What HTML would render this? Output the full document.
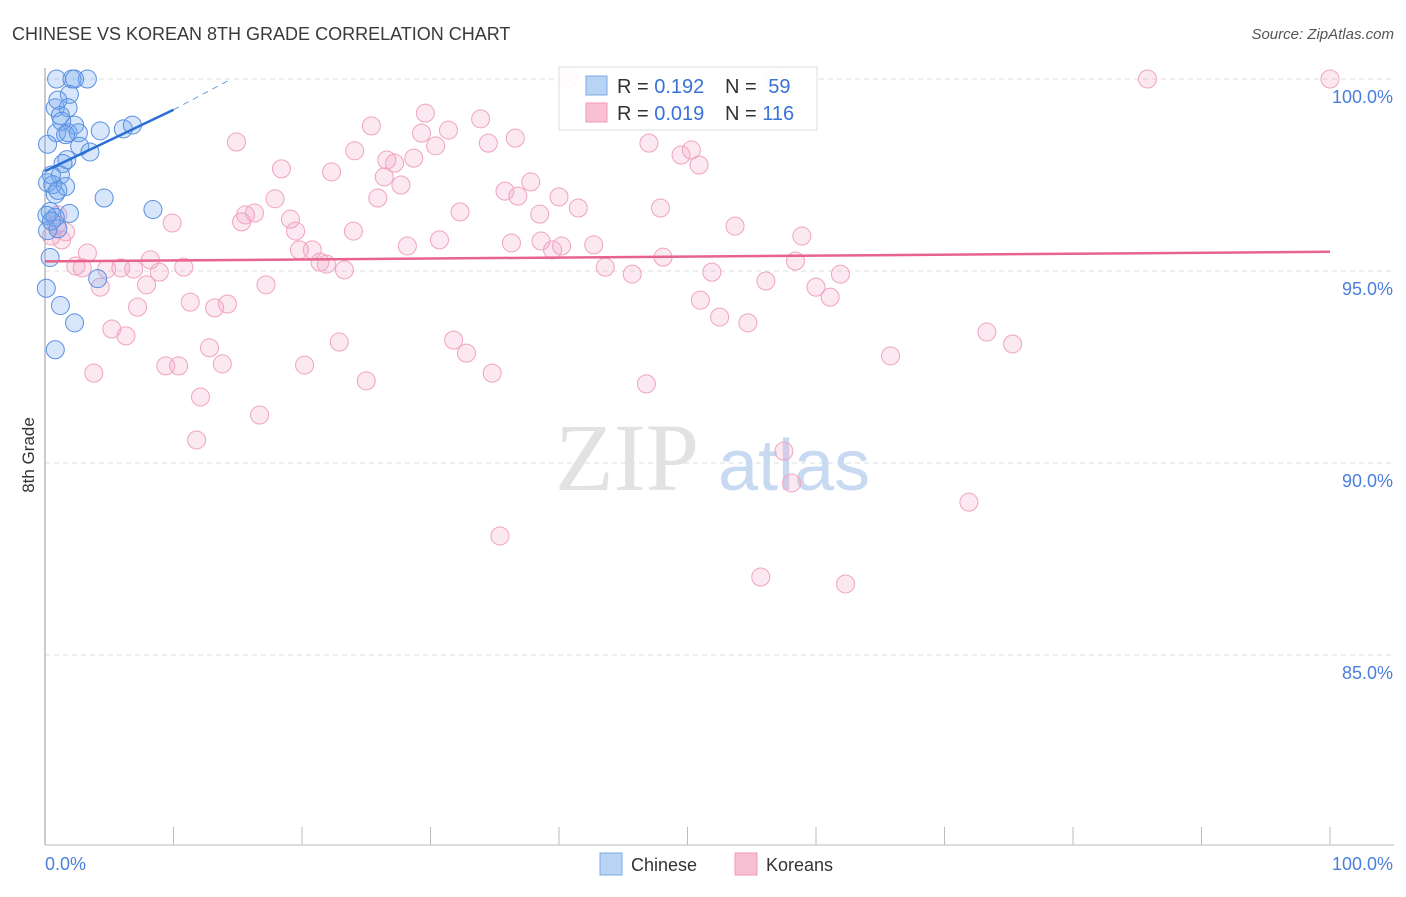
<!DOCTYPE html>
<html><head><meta charset="utf-8"><style>
body{margin:0;background:#fff;font-family:"Liberation Sans",sans-serif}
svg text{font-family:"Liberation Sans",sans-serif}
</style></head><body>
<svg id="chart" width="1406" height="892" xmlns="http://www.w3.org/2000/svg">
<text x="12" y="40" font-size="18" fill="#3a3a3a">CHINESE VS KOREAN 8TH GRADE CORRELATION CHART</text>
<text x="1394" y="39" font-size="15" fill="#555" text-anchor="end" font-style="italic">Source: ZipAtlas.com</text>
<text x="34" y="455" font-size="17" fill="#333" text-anchor="middle" transform="rotate(-90 34 455)">8th Grade</text>
<g id="grid"></g>
<g id="axes"></g>
<text x="555" y="490" font-size="96" fill="#e2e2e2" style="font-family:'Liberation Serif',serif">ZIP</text>
<text x="718" y="490" font-size="72" fill="#c8daf2">atlas</text>
<g id="pink"></g>
<g id="blue"></g>
<g id="lines"></g>
<g>
<rect x="559" y="67" width="258" height="63" fill="#fff" fill-opacity="0.9" stroke="#ddd"/>
<rect x="586" y="76" width="21" height="19" fill="#b9d3f5" stroke="#7aa8e8"/>
<rect x="586" y="103" width="21" height="19" fill="#f8c0d2" stroke="#f09ab8"/>
<text x="617" y="93" font-size="20" fill="#333">R = <tspan fill="#3a72d8">0.192</tspan></text>
<text x="725" y="93" font-size="20" fill="#333">N = <tspan fill="#3a72d8" dx="6">59</tspan></text>
<text x="617" y="120" font-size="20" fill="#333">R = <tspan fill="#3a72d8">0.019</tspan></text>
<text x="725" y="120" font-size="20" fill="#333">N = <tspan fill="#3a72d8">116</tspan></text>
</g>
<g>
<rect x="600" y="853" width="22" height="22" fill="#b9d3f5" stroke="#7aa8e8"/>
<text x="631" y="871" font-size="18" fill="#333">Chinese</text>
<rect x="735" y="853" width="22" height="22" fill="#f8c0d2" stroke="#f09ab8"/>
<text x="766" y="871" font-size="18" fill="#333">Koreans</text>
</g>
</svg>
<script>
const yTicks=[100,95,90,85];
const yTickLabels=["100.0%","95.0%","90.0%","85.0%"];
const xLabels=["0.0%","100.0%"];
const blueX=[0.9,2.1,3.3,1.9,0.8,1.8,1.2,2.3,0.9,1.8,2.6,4.3,6.1,6.8,0.2,2.7,3.5,1.7,1.4,1.2,0.2,0.6,1.6,0.8,4.6,8.4,0.4,1.9,0.8,0.2,1.0,0.4,0.1,4.1,1.2,2.3,0.8,1.0,1.3,1.6,0.5,1.0,0.15,0.5,2.3];
const blueY=[100,100,100,99.6,99.25,99.25,99.05,98.8,98.6,98.6,98.6,98.65,98.7,98.8,98.3,98.25,98.1,97.9,97.8,97.5,97.3,97.25,97.2,97.0,96.9,96.6,96.55,96.5,96.4,96.05,96.1,95.35,94.55,94.8,94.1,93.65,92.95,99.45,98.9,98.55,97.5,97.1,96.45,96.3,100];
const pinkX=[40.7,56.7,85.8,100,29.6,33.9,14.9,25.4,29.3,31.4,36.6,34.5,30.4,24.1,47.0,50.3,49.5,50.9,26.6,27.2,28.7,18.4,22.3,26.4,27.7,35.8,37.8,36.8,25.9,40.0,17.9,15.6,16.3,15.3,19.1,32.3,38.5,41.5,47.9,9.9,53.7,19.5,24.0,30.7,58.9,28.2,36.3,38.6,40.2,42.7,39.5,19.8,20.8,21.4,21.9,8.2,10.8,2.4,2.9,6.9,4.8,5.9,8.9,23.3,48.1,43.6,45.7,51.9,58.4,61.9,3.3,4.3,7.9,17.2,56.1,60.0,61.1,11.3,13.2,14.2,7.2,51.0,52.5,54.7,5.2,6.3,22.9,31.8,12.8,32.8,9.4,10.4,13.8,20.2,3.8,34.8,25.0,46.8,65.8,73.3,75.3,12.1,16.7,11.8,57.5,58.1,71.9,35.4,55.7,62.3,0.9,1.3,1.6,1.0,0.5];
const pinkY=[100,100,100,100,99.11,98.96,98.36,98.78,98.59,98.67,98.46,98.33,98.26,98.13,98.33,98.15,98.02,97.76,97.89,97.81,97.94,97.66,97.58,97.45,97.24,97.08,97.32,96.95,96.9,96.93,96.88,96.46,96.51,96.28,96.35,96.54,96.48,96.64,96.64,96.25,96.17,96.04,96.04,95.81,95.91,95.65,95.73,95.78,95.65,95.68,95.55,95.55,95.55,95.23,95.18,95.29,95.1,95.13,95.08,95.05,95.05,95.08,94.97,95.03,95.36,95.1,94.92,94.97,95.26,94.92,95.47,94.58,94.64,94.64,94.74,94.58,94.32,94.19,94.04,94.14,94.06,94.24,93.8,93.65,93.49,93.31,93.15,93.2,93.0,92.86,92.53,92.53,92.58,92.55,92.34,92.34,92.14,92.06,92.79,93.41,93.1,91.72,91.25,90.6,90.31,89.48,88.98,88.1,87.03,86.85,96.2,95.81,96.02,96.46,95.91];
const blueTrend={x0:0,y0:97.6,x1:10,y1:99.2,x2:14.5,y2:100};
const pinkTrend={x0:0,y0:95.25,x1:100,y1:95.5};
const NS="http://www.w3.org/2000/svg";
function sx(v){return 45+v*12.85;}
function sy(v){return 79+(100-v)*38.4;}
function mk(tag,attrs,parent){const e=document.createElementNS(NS,tag);for(const k in attrs)e.setAttribute(k,attrs[k]);parent.appendChild(e);return e;}
const grid=document.getElementById('grid');
yTicks.forEach((t,i)=>{
  const l=mk('line',{x1:45,x2:1394,y1:sy(t),y2:sy(t),stroke:'#ddd','stroke-dasharray':'5,4'},grid);
  
  
  const tx=mk('text',{x:1393,y:sy(t)+24,'font-size':18,fill:'#4a7fdc','text-anchor':'end'},grid);
  tx.textContent=yTickLabels[i];
  
  
});
const axes=document.getElementById('axes');
mk('line',{x1:45,x2:45,y1:68,y2:845,stroke:'#999'},axes);
mk('line',{x1:45,x2:1394,y1:845,y2:845,stroke:'#bbb'},axes);
for(let i=1;i<=10;i++){mk('line',{x1:sx(i*10),x2:sx(i*10),y1:827,y2:845,stroke:'#bbb'},axes);}
const xl0=mk('text',{x:45,y:870,'font-size':18,fill:'#4a7fdc'},axes);xl0.textContent=xLabels[0];


const xl1=mk('text',{x:1393,y:870,'font-size':18,fill:'#4a7fdc','text-anchor':'end'},axes);xl1.textContent=xLabels[1];


const pink=document.getElementById('pink');
pinkX.forEach((x,i)=>{const c=mk('circle',{cx:sx(x),cy:sy(pinkY[i]),r:9,fill:'rgba(245,165,195,0.25)',stroke:'#f0a3bf','stroke-width':1},pink);
  
  });
const blue=document.getElementById('blue');
blueX.forEach((x,i)=>{const c=mk('circle',{cx:sx(x),cy:sy(blueY[i]),r:9,fill:'rgba(110,165,240,0.28)',stroke:'#5a90e0','stroke-width':1},blue);
  
  });
const lines=document.getElementById('lines');
const bl=mk('line',{x1:sx(blueTrend.x0),y1:sy(blueTrend.y0),x2:sx(blueTrend.x1),y2:sy(blueTrend.y1),stroke:'#2a6fd6','stroke-width':2.5},lines);


const bd=mk('line',{x1:sx(blueTrend.x1),y1:sy(blueTrend.y1),x2:sx(blueTrend.x2),y2:sy(blueTrend.y2),stroke:'#6a9de0','stroke-width':1,'stroke-dasharray':'6,5'},lines);


const pl=mk('line',{x1:sx(pinkTrend.x0),y1:sy(pinkTrend.y0),x2:sx(pinkTrend.x1),y2:sy(pinkTrend.y1),stroke:'#e8628e','stroke-width':2.5},lines);


</script>
</body></html>
